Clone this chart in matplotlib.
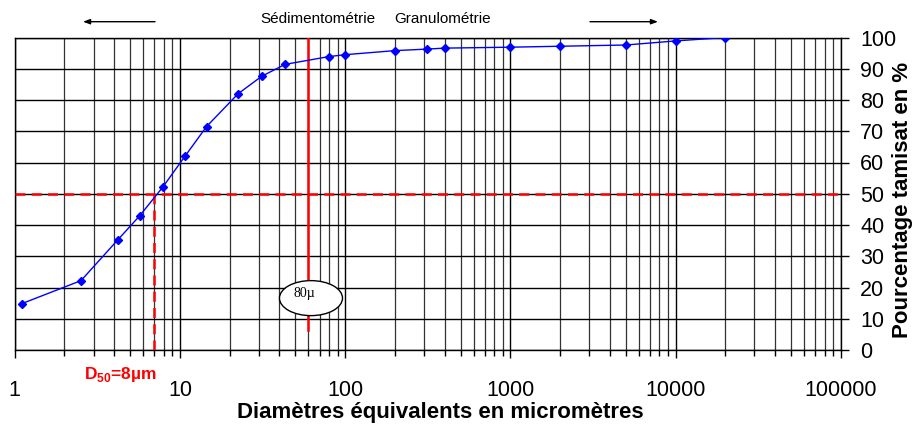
import matplotlib
matplotlib.use("Agg")
import matplotlib.pyplot as plt
from matplotlib.patches import Ellipse
from matplotlib.ticker import LogLocator, NullFormatter, FixedLocator

plt.rcParams["font.family"] = ["Liberation Sans", "DejaVu Sans"]
plt.rcParams["mathtext.fontset"] = "custom"
plt.rcParams["mathtext.bf"] = "Liberation Sans:bold"

# grain size distribution (diameter in micrometres, % passing)
diametres = [1.1, 2.52, 4.2, 5.7, 7.87, 10.8, 14.5, 22.5, 31.3, 43.3,
             80, 100, 200, 315, 400, 1000, 2000, 5000, 10000, 20000]
tamisat = [14.8, 22.2, 35.2, 42.9, 52.1, 62.2, 71.5, 82.0, 87.6, 91.4,
           93.9, 94.5, 95.8, 96.3, 96.6, 96.9, 97.2, 97.6, 98.9, 100]

d50 = 7.0
limite_80 = 60
y_ticks = list(range(0, 101, 10))
x_ticks = [1, 10, 100, 1000, 10000, 100000]

fig = plt.figure(figsize=(9.13, 4.24), dpi=100)
ax = fig.add_axes([14.7 / 913, 74 / 424, 826 / 913, 312.5 / 424])

ax.set_xscale("log")
ax.set_xlim(1, 100000)
ax.set_ylim(0, 100)

# grid
ax.xaxis.set_major_locator(FixedLocator(x_ticks))
ax.xaxis.set_minor_locator(LogLocator(base=10, subs=range(2, 10), numticks=20))
ax.xaxis.set_minor_formatter(NullFormatter())
ax.set_xticklabels([str(v) for v in x_ticks])
ax.set_yticks(y_ticks)
ax.grid(True, which="major", axis="both", color="black", lw=1.0)
ax.grid(True, which="minor", axis="x", color="#333333", lw=0.9)
ax.set_axisbelow(True)

ax.yaxis.tick_right()
ax.tick_params(axis="y", which="both", direction="out", length=6, width=1,
               labelsize=15.5, pad=8)
ax.tick_params(axis="x", which="major", direction="out", length=6, width=1,
               labelsize=15.5, pad=15.5)
ax.tick_params(axis="x", which="minor", direction="out", length=4, width=1)
for s in ax.spines.values():
    s.set_color("black")
    s.set_linewidth(1)

# red reference lines
ax.axhline(50, color="red", lw=1.8, ls=(0, (4, 2.5)), zorder=3)
ax.plot([d50, d50], [0, 50], color="red", lw=1.8, ls=(0, (4, 2.5)), zorder=3)
ax.plot([limite_80, limite_80], [6.4, 100], color="red", lw=1.8, zorder=3)

# curve
ax.plot(diametres, tamisat, color="blue", lw=1, marker="D", markersize=4,
        zorder=4)

# 80 micron label
ell = Ellipse((0.3587, 0.166), 0.0763, 0.112, transform=ax.transAxes,
              facecolor="white", edgecolor="black", lw=1, zorder=5)
ax.add_patch(ell)
ax.text(0.351, 0.18, "80µ", transform=ax.transAxes, ha="center", va="center",
        fontsize=10, family="Liberation Serif", zorder=6)

ax.set_xlabel("Diamètres équivalents en micromètres", fontsize=16,
              fontweight="bold")
ax.xaxis.set_label_coords(0.515, -0.165)
ax.yaxis.set_label_position("right")
ax.set_ylabel("Pourcentage tamisat en %", fontsize=16, fontweight="bold")
ax.yaxis.set_label_coords(1.062, 0.48)

# D50 label
fig.text(120 / 913, 1 - 375 / 424, r"D$_{\mathbf{50}}$=8µm", color="red",
         fontsize=12.5, fontweight="bold", ha="center", va="center")

# top annotations
fig.text(317.5 / 913, 1 - 19 / 424, "Sédimentométrie", fontsize=11,
         ha="center", va="center")
fig.text(443 / 913, 1 - 19 / 424, "Granulométrie", fontsize=11,
         ha="center", va="center")
arrow = dict(arrowstyle="-|>,head_length=0.4,head_width=0.15", color="black",
             lw=1, shrinkA=0, shrinkB=0)
ax.annotate("", xy=(83, 424 - 21.7), xytext=(155, 424 - 21.7),
            xycoords="figure pixels", textcoords="figure pixels",
            arrowprops=arrow)
ax.annotate("", xy=(658, 424 - 21.7), xytext=(590, 424 - 21.7),
            xycoords="figure pixels", textcoords="figure pixels",
            arrowprops=arrow)

fig.savefig("out.png", dpi=100)
